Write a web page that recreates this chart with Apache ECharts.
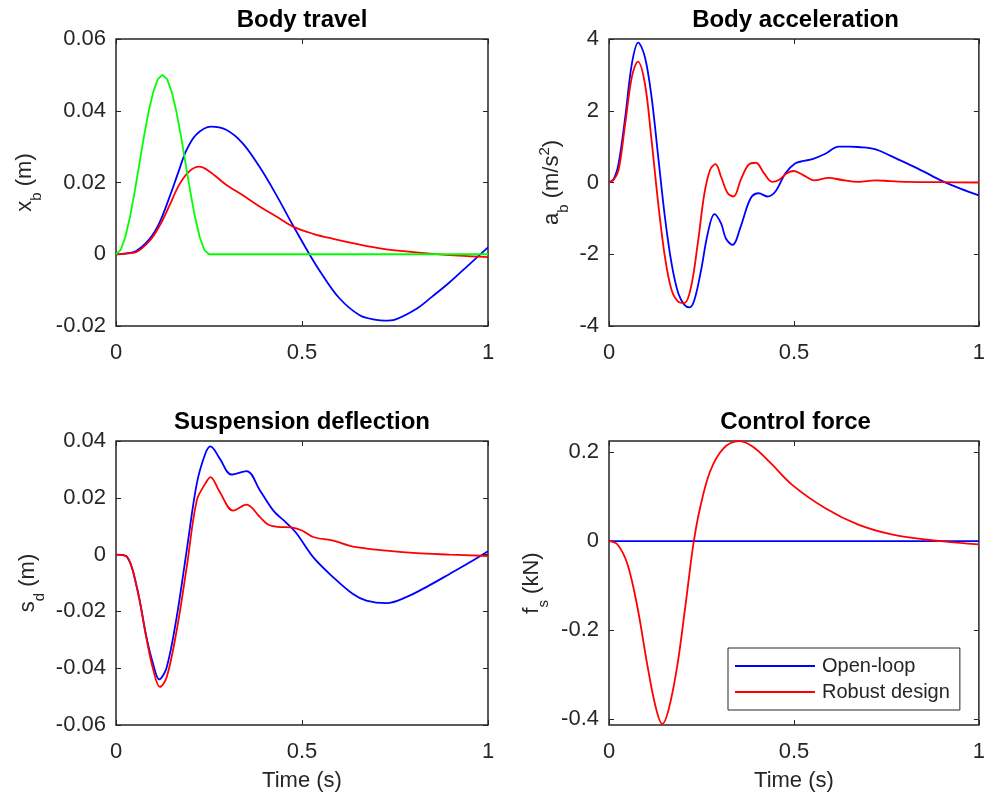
<!DOCTYPE html>
<html>
<head>
<meta charset="utf-8">
<script src="https://cdn.jsdelivr.net/npm/echarts@6/dist/echarts.min.js"></script>
<style>
html,body{margin:0;padding:0;background:#fff;}
#chart{width:988px;height:796px;}
</style>
</head>
<body>
<div id="chart"></div>
<script>
// ---------- data ----------
const titles = ['Body travel', 'Body acceleration', 'Suspension deflection', 'Control force'];
const seriesNames = ['Open-loop', 'Robust design', 'Road profile'];
const xTicks = [0, 0.5, 1];

// Body travel (m)
const travelOpenT = [0,0.025,0.054,0.09,0.117,0.143,0.17,0.188,0.215,0.255,0.296,0.34,0.385,0.43,0.476,0.52,0.55,0.6,0.655,0.7,0.722,0.75,0.808,0.85,0.897,0.95,1];
const travelOpenV = [0,0.0002,0.0009,0.0042,0.0088,0.0157,0.0236,0.0287,0.0333,0.0356,0.0347,0.031,0.0245,0.0167,0.008,0,-0.005,-0.0122,-0.017,-0.0183,-0.0185,-0.0182,-0.0152,-0.0118,-0.0078,-0.0028,0.0019];
const travelRobustT = [0,0.025,0.054,0.09,0.117,0.143,0.17,0.197,0.224,0.251,0.296,0.34,0.385,0.43,0.476,0.53,0.584,0.65,0.718,0.78,0.852,0.92,1];
const travelRobustV = [0,0.0002,0.0006,0.0037,0.0079,0.0134,0.0194,0.0231,0.0244,0.0231,0.0194,0.0165,0.0134,0.0106,0.0077,0.0057,0.0043,0.0028,0.0015,0.0008,0.0001,-0.0004,-0.0008];
const roadT = [0,0.0125,0.025,0.0375,0.05,0.0625,0.075,0.0875,0.1,0.1125,0.125,0.1375,0.15,0.1625,0.175,0.1875,0.2,0.2125,0.225,0.2375,0.25,1];
const roadV = [0,0.0012,0.0048,0.0103,0.0173,0.025,0.0327,0.0397,0.0452,0.0488,0.05,0.0488,0.0452,0.0397,0.0327,0.025,0.0173,0.0103,0.0048,0.0012,0,0];

// Body acceleration (m/s^2)
const accelOpenT = [0,0.013,0.026,0.044,0.062,0.079,0.097,0.115,0.133,0.151,0.169,0.187,0.204,0.218,0.231,0.249,0.267,0.285,0.303,0.316,0.334,0.356,0.383,0.405,0.428,0.45,0.477,0.503,0.526,0.55,0.585,0.621,0.65,0.674,0.719,0.76,0.808,0.85,0.897,0.95,1];
const accelOpenV = [0,0.1,0.53,1.83,3.32,3.9,3.5,2.39,0.72,-0.95,-2.25,-3.08,-3.41,-3.48,-3.27,-2.44,-1.42,-0.88,-1.14,-1.56,-1.74,-1.23,-0.44,-0.3,-0.39,-0.25,0.26,0.53,0.6,0.65,0.8,1.0,1.0,0.99,0.93,0.75,0.52,0.31,0.06,-0.17,-0.36];
const accelRobustT = [0,0.013,0.026,0.044,0.062,0.078,0.097,0.115,0.133,0.151,0.169,0.187,0.204,0.222,0.24,0.258,0.274,0.288,0.303,0.321,0.337,0.356,0.377,0.397,0.419,0.441,0.459,0.481,0.499,0.526,0.555,0.594,0.63,0.674,0.72,0.76,0.808,0.9,1];
const accelRobustV = [0,0.08,0.35,1.65,2.95,3.37,2.76,1.18,-0.58,-2.06,-2.99,-3.32,-3.36,-2.9,-1.7,-0.3,0.37,0.51,0.16,-0.3,-0.39,0.07,0.49,0.55,0.26,0.02,0.07,0.26,0.32,0.2,0.06,0.13,0.07,0.02,0.06,0.04,0.02,0.01,0];

// Suspension deflection (m)
const suspOpenT = [0,0.029,0.056,0.082,0.1,0.116,0.136,0.163,0.19,0.217,0.24,0.254,0.279,0.31,0.351,0.387,0.423,0.458,0.485,0.53,0.584,0.637,0.673,0.727,0.78,0.84,0.897,0.95,1];
const suspOpenV = [0,-0.0007,-0.0115,-0.0292,-0.0386,-0.0439,-0.0398,-0.0221,0.0014,0.0249,0.0355,0.0381,0.0338,0.0282,0.0294,0.0226,0.0155,0.0112,0.0075,-0.0009,-0.008,-0.0139,-0.0162,-0.0171,-0.015,-0.011,-0.0068,-0.0028,0.0012];
const suspRobustT = [0,0.029,0.056,0.082,0.1,0.118,0.136,0.163,0.19,0.217,0.24,0.254,0.279,0.315,0.351,0.387,0.41,0.44,0.47,0.5,0.53,0.584,0.637,0.727,0.808,0.897,1];
const suspRobustV = [0,-0.0007,-0.0115,-0.0295,-0.0405,-0.0466,-0.0433,-0.0268,-0.0045,0.019,0.025,0.0273,0.022,0.0155,0.0176,0.0132,0.0105,0.0097,0.0096,0.0085,0.0062,0.0049,0.0028,0.0014,0.0005,0,-0.0005];

// Control force (kN)
const forceOpenT = [0,1];
const forceOpenV = [0,0];
const forceRobustT = [0,0.023,0.05,0.077,0.103,0.126,0.144,0.161,0.184,0.206,0.228,0.246,0.273,0.309,0.351,0.389,0.434,0.496,0.585,0.674,0.764,0.853,0.897,0.95,1];
const forceRobustV = [0,-0.0074,-0.052,-0.149,-0.275,-0.372,-0.411,-0.379,-0.283,-0.149,-0.0074,0.074,0.156,0.208,0.2245,0.212,0.178,0.126,0.074,0.037,0.015,0.0037,0,-0.004,-0.0074];

// y axis ranges / ticks
const yRanges = [[-0.02, 0.06], [-4, 4], [-0.06, 0.04], [-0.413, 0.225]];
const yTicks = [
  [-0.02, 0, 0.02, 0.04, 0.06],
  [-4, -2, 0, 2, 4],
  [-0.06, -0.04, -0.02, 0, 0.02, 0.04],
  [-0.4, -0.2, 0, 0.2]
];

// ---------- layout / style ----------
const FONT = '"Liberation Sans", Arial, Helvetica, sans-serif';
const AX = '#262626';
const BLUE = '#0000ff', RED = '#ff0000', GREEN = '#00ff00';
const grids = [
  {left: 116, top: 39, width: 372, height: 287},
  {left: 609, top: 39, width: 373, height: 287},
  {left: 116, top: 441, width: 372, height: 284},
  {left: 609, top: 441, width: 373, height: 284}
];
const titlePos = [[302, 8], [795.5, 8], [302, 410], [795.5, 410]];
const yNames = [
  '{m|x}{s|b}{m| (m)}',
  '{m|a}{s|b}{m| (m/s}{p|2}{m|)}',
  '{m|s}{s|d}{m| (m)}',
  '{m|f}{s|s}{m| (kN)}'
];
const yNameGaps = [79, 45, 76, 65];

const richName = {
  m: {fontSize: 22, fontFamily: FONT, color: AX, lineHeight: 24, verticalAlign: 'middle'},
  s: {fontSize: 15, fontFamily: FONT, color: AX, lineHeight: 15, verticalAlign: 'top', padding: [16, 0, 0, 0]},
  p: {fontSize: 15, fontFamily: FONT, color: AX, lineHeight: 15, verticalAlign: 'top', padding: [-3, 0, 0, 0]}
};

const tickStyle = {color: AX, width: 1};
const xAxes = [], yAxes = [];
grids.forEach((g, i) => {
  const isBottom = i >= 2;
  xAxes.push({
    type: 'value', gridIndex: i, min: 0, max: 1, interval: 0.5, position: 'bottom',
    axisLine: {show: false, onZero: false}, splitLine: {show: false},
    axisTick: {inside: true, length: 5, lineStyle: tickStyle, customValues: xTicks},
    axisLabel: {margin: 16, fontSize: 22, fontFamily: FONT, color: AX, customValues: xTicks},
    name: isBottom ? 'Time (s)' : '', nameLocation: 'middle', nameGap: 45,
    nameTextStyle: {fontSize: 22, fontFamily: FONT, color: AX}
  });
  xAxes.push({
    type: 'value', gridIndex: i, min: 0, max: 1, interval: 0.5, position: 'top',
    axisLine: {show: false, onZero: false}, splitLine: {show: false}, axisLabel: {show: false},
    axisTick: {inside: true, length: 5, lineStyle: tickStyle, customValues: xTicks}
  });
  const r = yRanges[i];
  yAxes.push({
    type: 'value', gridIndex: i, min: r[0], max: r[1], position: 'left',
    axisLine: {show: false, onZero: false}, splitLine: {show: false},
    axisTick: {inside: true, length: 5, lineStyle: tickStyle, customValues: yTicks[i]},
    axisLabel: {margin: 10, fontSize: 22, fontFamily: FONT, color: AX, customValues: yTicks[i]},
    name: yNames[i], nameLocation: 'middle', nameRotate: 90, nameGap: yNameGaps[i],
    nameTextStyle: {rich: richName}
  });
  yAxes.push({
    type: 'value', gridIndex: i, min: r[0], max: r[1], position: 'right',
    axisLine: {show: false, onZero: false}, splitLine: {show: false}, axisLabel: {show: false},
    axisTick: {inside: true, length: 5, lineStyle: tickStyle, customValues: yTicks[i]}
  });
});

function line(name, t, v, color, gi, smooth) {
  return {
    type: 'line', name: name, xAxisIndex: 2 * gi, yAxisIndex: 2 * gi,
    data: t.map((x, k) => [x, v[k]]),
    showSymbol: false, symbol: 'none', smooth: smooth === undefined ? 0.35 : smooth,
    lineStyle: {width: 1.8, color: color}, itemStyle: {color: color},
    animation: false
  };
}

const series = [
  line(seriesNames[0], travelOpenT, travelOpenV, BLUE, 0),
  line(seriesNames[1], travelRobustT, travelRobustV, RED, 0),
  line(seriesNames[2], roadT, roadV, GREEN, 0, false),
  line(seriesNames[0], accelOpenT, accelOpenV, BLUE, 1),
  line(seriesNames[1], accelRobustT, accelRobustV, RED, 1),
  line(seriesNames[0], suspOpenT, suspOpenV, BLUE, 2),
  line(seriesNames[1], suspRobustT, suspRobustV, RED, 2),
  line(seriesNames[0], forceOpenT, forceOpenV, BLUE, 3, false),
  line(seriesNames[1], forceRobustT, forceRobustV, RED, 3)
];

const option = {
  backgroundColor: '#ffffff',
  animation: false,
  title: titles.map((t, i) => ({
    text: t, left: titlePos[i][0], top: titlePos[i][1], textAlign: 'center', padding: 0,
    textStyle: {fontSize: 24, fontWeight: 'bold', fontFamily: FONT, color: '#000'}
  })),
  grid: grids.map(g => Object.assign({show: true, borderColor: AX, borderWidth: 1.5, backgroundColor: '#fff'}, g)),
  xAxis: xAxes,
  yAxis: yAxes,
  legend: {
    data: [seriesNames[0], seriesNames[1]], orient: 'vertical', left: 728, top: 648,
    itemWidth: 80, itemHeight: 2, icon: 'rect', itemGap: 6, selectedMode: false,
    padding: [8, 10, 8, 7], borderColor: AX, borderWidth: 1, backgroundColor: '#fff',
    textStyle: {fontSize: 20, fontFamily: FONT, color: AX, padding: [0, 0, 0, 2]}
  },
  series: series
};

const chart = echarts.init(document.getElementById('chart'), null, {renderer: 'canvas'});
chart.setOption(option);
</script>
</body>
</html>
